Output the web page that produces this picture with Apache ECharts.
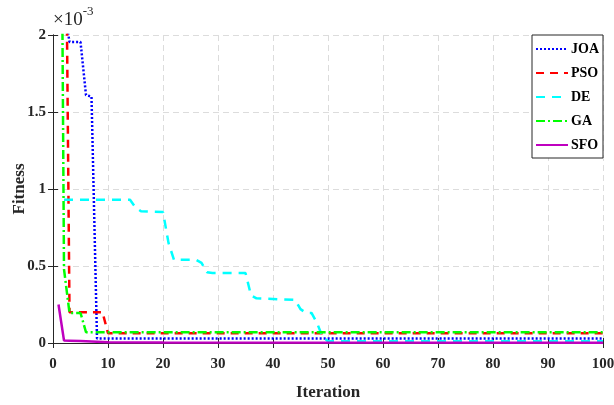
<!DOCTYPE html>
<html>
<head>
<meta charset="utf-8">
<script src="https://cdn.jsdelivr.net/npm/echarts@6/dist/echarts.min.js"></script>
<style>html,body{margin:0;padding:0;background:#fff;}#c{width:614px;height:405px;}</style>
</head>
<body>
<div id="c"></div>
<script>
// Values in units of 1e-3 (breakpoints: iteration, fitness)
const joaX = [1, 2, 3, 5, 6, 7, 8, 100];
const joaY = [2.2, 2.18, 1.955, 1.955, 1.61, 1.6, 0.03, 0.03];
const psoX = [1, 2, 3, 9, 10, 100];
const psoY = [4.5, 4.2, 0.2, 0.2, 0.063, 0.063];
const deX = [2, 14, 15, 16, 20, 21, 22, 26, 27, 28, 29, 35, 36, 37, 44, 45, 46, 47, 48, 49, 50, 100];
const deY = [0.93, 0.93, 0.88, 0.855, 0.85, 0.65, 0.54, 0.54, 0.52, 0.46, 0.455, 0.455, 0.31, 0.29, 0.28, 0.22, 0.195, 0.195, 0.13, 0.04, 0.012, 0.012];
const gaX = [1, 2, 3, 5, 6, 100];
const gaY = [6.0, 0.48, 0.195, 0.195, 0.07, 0.07];
const sfoX = [1, 2, 3, 5, 7, 9, 10, 20, 100];
const sfoY = [0.25, 0.016, 0.015, 0.013, 0.01, 0.007, 0.005, 0.003, 0.002];
const xTicks = [0, 10, 20, 30, 40, 50, 60, 70, 80, 90, 100];
const yTicks = [0, 0.5, 1, 1.5, 2];

function pairs(xs, ys) { return xs.map((x, i) => [x, ys[i]]); }

const FONT = '"Liberation Serif", "Times New Roman", serif';
const chart = echarts.init(document.getElementById('c'), null, {renderer: 'canvas'});

const gridLine = {show: true, lineStyle: {color: '#dcdcdc', type: [6, 4], width: 1}};
const axLine = {show: true, lineStyle: {color: '#262626', width: 1}};

function series(name, xs, ys, color, type, width) {
  return {
    name, type: 'line', data: pairs(xs, ys), showSymbol: false, symbol: 'none',
    clip: true, animation: false,
    lineStyle: {color, type, width},
    itemStyle: {color}
  };
}

chart.setOption({
  animation: false,
  backgroundColor: '#fff',
  grid: {left: 53, top: 35, width: 550, height: 308, containLabel: false, outerBoundsMode: 'none'},
  xAxis: [
    {type: 'value', min: 0, max: 100, interval: 10, position: 'bottom',
     axisLine: axLine, axisTick: {show: true, inside: true, length: 5, lineStyle: {color: '#262626'}},
     axisLabel: {fontFamily: FONT, fontWeight: 'bold', fontSize: 15, color: '#262626', margin: 14},
     splitLine: gridLine,
     name: 'Iteration', nameLocation: 'middle', nameGap: 41, nameMoveOverlap: false,
     nameTextStyle: {fontFamily: FONT, fontWeight: 'bold', fontSize: 17, color: '#262626'}},
    {type: 'value', min: 0, max: 100, interval: 10, position: 'top',
     axisLine: axLine, axisTick: {show: true, inside: true, length: 5, lineStyle: {color: '#262626'}},
     axisLabel: {show: false}, splitLine: {show: false}}
  ],
  yAxis: [
    {type: 'value', min: 0, max: 2, interval: 0.5, position: 'left',
     axisLine: axLine, axisTick: {show: true, inside: true, length: 5, lineStyle: {color: '#262626'}},
     axisLabel: {fontFamily: FONT, fontWeight: 'bold', fontSize: 15, color: '#262626', margin: 7,
       formatter: v => String(v)},
     splitLine: gridLine,
     name: 'Fitness', nameLocation: 'middle', nameGap: 25, nameRotate: 90, nameMoveOverlap: false,
     nameTextStyle: {fontFamily: FONT, fontWeight: 'bold', fontSize: 17, color: '#262626'}},
    {type: 'value', min: 0, max: 2, interval: 0.5, position: 'right',
     axisLine: axLine, axisTick: {show: true, inside: true, length: 5, lineStyle: {color: '#262626'}},
     axisLabel: {show: false}, splitLine: {show: false}}
  ],
  legend: {
    orient: 'vertical', right: 11, top: 35,
    backgroundColor: '#fff', borderColor: '#262626', borderWidth: 1,
    padding: [7, 4, 6, 3], itemWidth: 32, itemHeight: 14, itemGap: 10,
    itemStyle: {opacity: 0},
    textStyle: {fontFamily: FONT, fontWeight: 'bold', fontSize: 14, color: '#000', padding: [0, 0, 0, -2]},
    data: ['JOA', 'PSO', 'DE', 'GA', 'SFO']
  },
  graphic: [{
    type: 'text', left: 53, top: 5,
    style: {
      text: '{a|×10}{b|-3}',
      rich: {
        a: {fontFamily: FONT, fontSize: 19, fill: '#262626', verticalAlign: 'bottom'},
        b: {fontFamily: FONT, fontSize: 13, fill: '#262626', verticalAlign: 'top', padding: [0, 0, 12, 0]}
      }
    }
  }],
  series: [
    series('JOA', joaX, joaY, '#0000ff', [2, 2], 2.5),
    series('PSO', psoX, psoY, '#ff0000', [8, 6], 2.5),
    series('DE', deX, deY, '#00ffff', [9, 7], 2.5),
    series('GA', gaX, gaY, '#00ff00', [9, 3, 2, 3], 2.5),
    series('SFO', sfoX, sfoY, '#bf00bf', 'solid', 2.5)
  ]
});
</script>
</body>
</html>
